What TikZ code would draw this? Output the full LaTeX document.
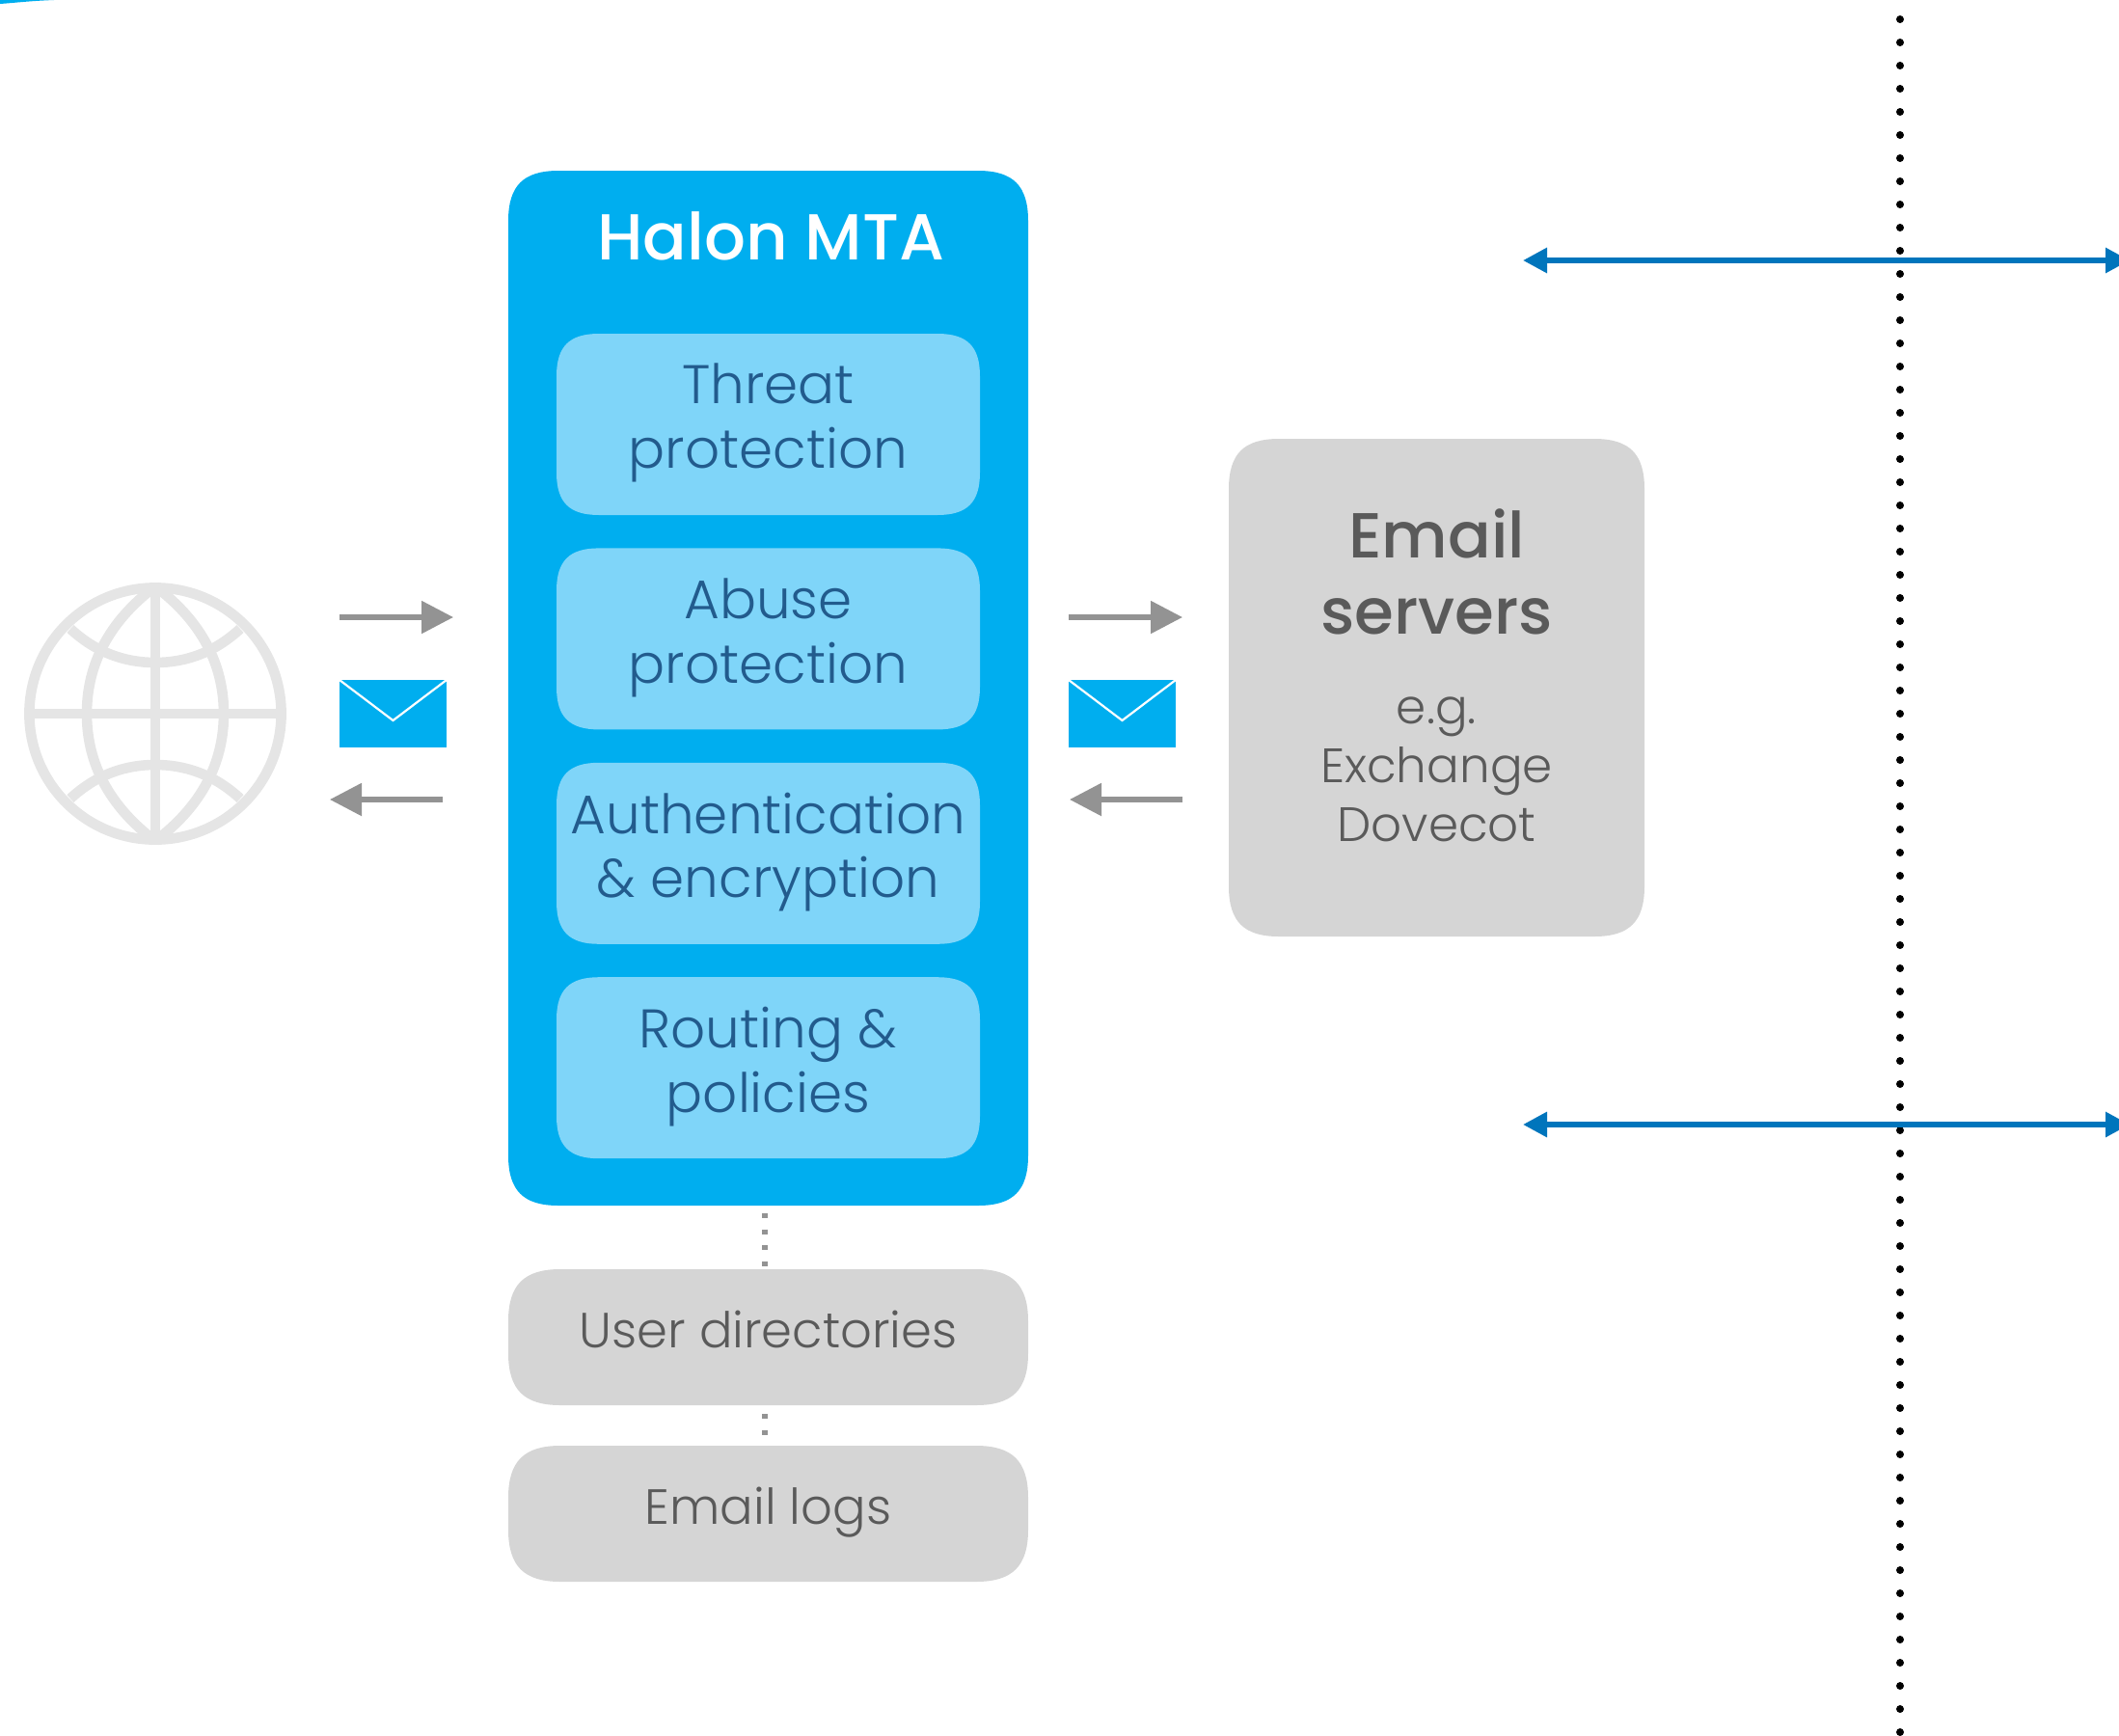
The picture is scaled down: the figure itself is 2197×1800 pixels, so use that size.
\documentclass[tikz,border=0pt]{standalone}
\usepackage{fontspec}
\setmainfont{Poppins}[UprightFont=* Light,BoldFont=* Medium]
\usetikzlibrary{positioning}
\usetikzlibrary{arrows.meta}
\usetikzlibrary{calc}
\usetikzlibrary{backgrounds}
\definecolor{halonblue}{HTML}{00AEEF}
\definecolor{paleblue}{HTML}{7FD5F9}
\definecolor{deepblue}{HTML}{225B8D}
\definecolor{linkblue}{HTML}{0075BC}
\definecolor{boxgray}{HTML}{D5D5D5}
\definecolor{textgray}{HTML}{5A5A5A}
\definecolor{arrowgray}{HTML}{939393}
\definecolor{globegray}{HTML}{E5E5E5}
\newcommand{\softbox}[3]{%
  \fill[#3] let \p1=(#1.north west),\p2=(#1.south east) in
    (\x1+#2,\y1) -- (\x2-#2,\y1)
    .. controls (\x2-0.3*#2,\y1) and (\x2,\y1-0.3*#2) .. (\x2,\y1-#2) -- (\x2,\y2+#2)
    .. controls (\x2,\y2+0.3*#2) and (\x2-0.3*#2,\y2) .. (\x2-#2,\y2) -- (\x1+#2,\y2)
    .. controls (\x1+0.3*#2,\y2) and (\x1,\y2+0.3*#2) .. (\x1,\y2+#2) -- (\x1,\y1-#2)
    .. controls (\x1,\y1-0.3*#2) and (\x1+0.3*#2,\y1) .. (\x1+#2,\y1) -- cycle;}

\begin{document}
\begin{tikzpicture}[x=0.5pt,y=-0.5pt,
    main box/.style={rectangle,minimum width=269.5pt,minimum height=536.5pt,outer sep=0pt},
    feature box/.style={rectangle,minimum width=219.5pt,minimum height=94pt,outer sep=0pt,
        align=center,text=deepblue,font=\fontsize{28.2}{33.4}\selectfont,inner sep=0pt,text depth=8.6pt},
    store box/.style={rectangle,minimum width=269.5pt,minimum height=70.5pt,outer sep=0pt,
        text=textgray,font=\fontsize{25.6}{30}\selectfont,inner sep=0pt,text height=20pt,text depth=9pt},
    server box/.style={rectangle,minimum width=215.5pt,minimum height=258pt,outer sep=0pt},
    mail/.style={rectangle,fill=halonblue,minimum width=55.5pt,minimum height=35pt,inner sep=0pt,outer sep=0pt,
        path picture={\draw[white,line width=1.1pt] (path picture bounding box.north west)
            -- ($(path picture bounding box.south)!0.4!(path picture bounding box.north)$)
            -- (path picture bounding box.north east);}},
    flow/.style={draw=arrowgray,line width=2.7pt,-{Triangle[length=16.5pt,width=16.5pt]}},
    link/.style={draw=linkblue,line width=3pt,{Triangle[length=12.5pt,width=12.5pt]}-{Triangle[length=12.5pt,width=12.5pt]}},
    spots/.style={draw=arrowgray,line width=2.6pt,dash pattern=on 2.6pt off 5.7pt},
    grid line/.style={draw=globegray,line width=5.3pt}]
\useasboundingbox (0,0) rectangle (2197,1800);

% sliver in the corner
\fill[halonblue] (0,0) -- (56,0) .. controls (30,1) and (15,3) .. (0,4) -- cycle;

% globe
\coordinate (globe) at (161,740);
\draw[grid line] (globe) circle [radius=65.3pt];
\draw[grid line] (161,610) -- (161,870);
\draw[grid line] (31,740) -- (291,740);
\draw[grid line] (161,608) .. controls (112,645) and (90,690) .. (90,740) .. controls (90,790) and (112,835) .. (161,872);
\draw[grid line] (161,608) .. controls (210,645) and (232,690) .. (232,740) .. controls (232,790) and (210,835) .. (161,872);
\draw[grid line] (73,652) .. controls (100,677) and (130,687) .. (161,687) .. controls (192,687) and (222,677) .. (249,652);
\draw[grid line] (73,828) .. controls (100,803) and (130,793) .. (161,793) .. controls (192,793) and (222,803) .. (249,828);

% halon
\node[main box] (halon) at (796.5,713.5) {};
\node[below=18pt of halon.north,xshift=1.4pt,text=white,font=\fontsize{33.7}{38}\selectfont\bfseries] (title) {Halon MTA};
\node[feature box] (threat) at (796.5,440) {Threat\\protection};
\node[feature box,below=17.2pt of threat] (abuse) {Abuse\\protection};
\node[feature box,below=17.2pt of abuse] (auth) {Authentication\\\&{} encryption};
\node[feature box,below=17.2pt of auth] (routing) {Routing \&\\policies};

\node[store box] (users) at (796.5,1386.5) {User directories};
\node[store box,below=21pt of users] (logs) {Email logs};

\node[server box] (servers) at (1489.5,713) {};
\node[below=33pt of servers.north,align=center,text=textgray,font=\fontsize{33}{39.2}\selectfont\bfseries] (srvname) {Email\\servers};
\node[below=25.5pt of srvname,align=center,text=textgray,font=\fontsize{25}{30.4}\selectfont] (srvnote) {e.g.\\Exchange\\Dovecot};

\begin{scope}[on background layer]
\foreach \nm/\rad/\col in {halon/26pt/halonblue,threat/22pt/paleblue,abuse/22pt/paleblue,auth/22pt/paleblue,
    routing/22pt/paleblue,users/27pt/boxgray,logs/27pt/boxgray,servers/26pt/boxgray}
  \softbox{\nm}{\rad}{\col};
\end{scope}

% mail flow
\node[mail] (mailA) at (407.5,740) {};
\node[mail] (mailB) at (1163.5,740) {};
\coordinate (a1) at (352,640); \coordinate (a2) at (470,640);
\coordinate (a3) at (459,829); \coordinate (a4) at (342,829);
\coordinate (b1) at (1108,640); \coordinate (b2) at (1226,640);
\coordinate (b3) at (1226,829); \coordinate (b4) at (1109,829);
\path[flow] (a1) -- (a2);
\path[flow] (a3) -- (a4);
\path[flow] (b1) -- (b2);
\path[flow] (b3) -- (b4);

\coordinate (s1) at (793,1258); \coordinate (s2) at (793,1313);
\coordinate (s3) at (793,1466); \coordinate (s4) at (793,1490);
\draw[spots] (s1) -- (s2);
\draw[spots] (s3) -- (s4);

% boundary
\coordinate (top) at (1970,20); \coordinate (bottom) at (1970,1800);
\draw[black,line width=4pt,line cap=round,dash pattern=on 0pt off 12pt] (top) -- (bottom);

% links
\coordinate (l1) at (1579,270); \coordinate (r1) at (2208,270);
\coordinate (l2) at (1579,1166); \coordinate (r2) at (2208,1166);
\path[link] (l1) -- (r1);
\path[link] (l2) -- (r2);
\end{tikzpicture}
\end{document}
